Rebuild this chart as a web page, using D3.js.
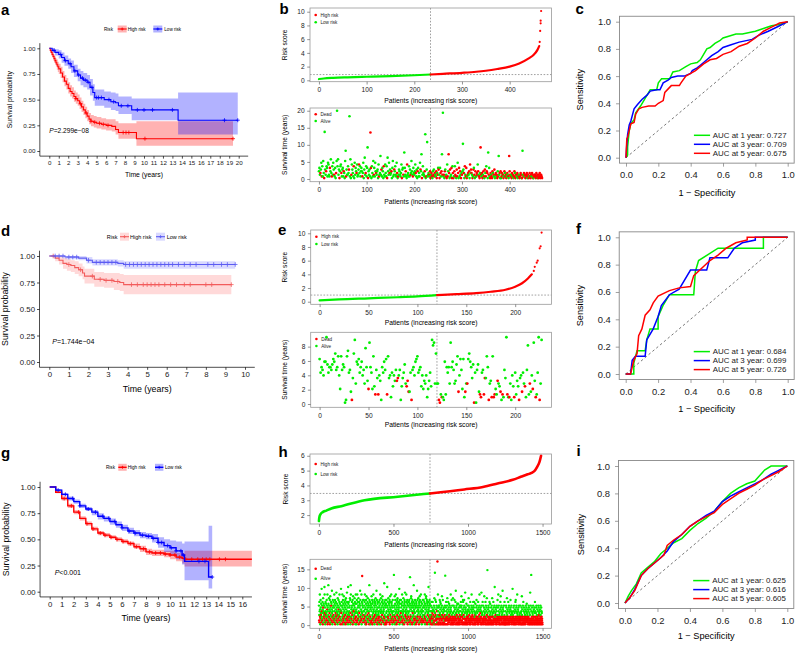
<!DOCTYPE html>
<html><head><meta charset="utf-8">
<script src="https://cdn.jsdelivr.net/npm/d3@7"></script>
<style>body{margin:0;background:#fff}svg{display:block}</style>
</head><body><svg id="chart" width="795" height="654"></svg>
<script>
// ================= DATA =================
// ---- Panel a (KM) ----
const aHighT=[0,0.1,0.2,0.3,0.4,0.5,0.6,0.7,0.8,0.9,1.0,1.2,1.4,1.6,1.8,2.0,2.2,2.4,2.6,2.8,3.0,3.2,3.4,3.6,3.8,4.0,4.2,4.4,4.7,5.0,5.5,6.0,6.6,7.0,7.3,9.2];
const aHighS=[1,0.98,0.96,0.94,0.92,0.90,0.88,0.86,0.84,0.82,0.80,0.76,0.72,0.68,0.65,0.61,0.58,0.56,0.53,0.51,0.49,0.46,0.43,0.40,0.37,0.34,0.31,0.29,0.28,0.27,0.26,0.25,0.24,0.21,0.18,0.12];
const aHighHi=[1,1,0.99,0.97,0.96,0.94,0.92,0.90,0.89,0.87,0.85,0.82,0.78,0.74,0.71,0.67,0.64,0.62,0.59,0.57,0.55,0.52,0.49,0.46,0.43,0.40,0.37,0.35,0.34,0.33,0.32,0.31,0.31,0.29,0.27,0.29];
const aHighLo=[1,0.96,0.93,0.91,0.88,0.86,0.84,0.82,0.79,0.77,0.75,0.71,0.67,0.63,0.60,0.56,0.53,0.51,0.48,0.46,0.44,0.41,0.38,0.35,0.32,0.29,0.26,0.24,0.23,0.22,0.21,0.20,0.19,0.16,0.12,0.05];
const aHighCens=[2.8,3.3,3.9,4.4,4.8,5.3,5.7,6.2,7.8,8.1,8.4,10.1,19.4];
const aLowT=[0,0.3,0.6,1.0,1.3,1.6,2.0,2.3,2.6,3.0,3.3,3.6,4.0,4.3,4.6,4.8,5.8,6.5,7.0,7.3,8.7,13.6];
const aLowS=[1,0.98,0.96,0.94,0.91,0.88,0.85,0.82,0.78,0.74,0.71,0.69,0.67,0.62,0.57,0.52,0.50,0.48,0.47,0.44,0.40,0.30];
const aLowHi=[1,1,0.99,0.98,0.96,0.93,0.90,0.88,0.84,0.80,0.78,0.76,0.74,0.70,0.65,0.60,0.58,0.57,0.56,0.53,0.51,0.57];
const aLowLo=[1,0.96,0.93,0.90,0.86,0.83,0.80,0.76,0.72,0.68,0.64,0.62,0.60,0.54,0.49,0.44,0.42,0.40,0.39,0.36,0.30,0.16];
const aLowCens=[0.5,1.2,1.7,2.2,2.7,3.1,3.5,3.8,4.1,4.5,5.0,5.2,5.5,6.3,6.8,7.6,8.3,9.3,10.0,10.9,13.0,18.5,19.9];

// ---- Panel d (KM) ----
const dHighT=[0,0.3,0.5,0.7,0.9,1.1,1.3,1.5,1.7,1.8,2.3,2.8,3.3,3.6,3.8];
const dHighS=[1,0.98,0.96,0.93,0.92,0.91,0.89,0.87,0.84,0.81,0.78,0.77,0.76,0.75,0.73];
const dHighHi=[1,1,1,0.98,0.97,0.96,0.95,0.93,0.90,0.88,0.85,0.84,0.84,0.83,0.82];
const dHighLo=[1,0.95,0.92,0.88,0.86,0.85,0.83,0.81,0.78,0.74,0.71,0.70,0.68,0.67,0.64];
const dHighCens=[0.2,1.0,1.6,2.2,2.6,2.9,3.2,3.5,4.2,4.5,4.8,5.0,5.2,5.4,5.6,5.9,6.2,6.5,6.9,7.2,8.0,8.3,9.3];
const dLowT=[0,0.8,1.5,1.9,2.2,3.5,3.8];
const dLowS=[1,0.99,0.98,0.96,0.94,0.93,0.92];
const dLowHi=[1,1,1,0.99,0.97,0.96,0.95];
const dLowLo=[1,0.97,0.96,0.93,0.91,0.90,0.88];
const dLowCens=[0.3,0.5,0.7,1.0,1.2,1.4,2.0,2.4,2.6,2.8,3.0,3.2,3.4,3.9,4.1,4.3,4.5,4.7,4.9,5.1,5.3,5.5,5.7,5.9,6.1,6.3,6.6,6.9,7.2,7.5,8.1,8.4,8.8,9.1,9.5];

// ---- Panel g (KM) ----
const gHighT=[0,0.5,1,1.5,2,2.5,3,3.5,4,4.5,5,5.5,6,6.5,7,7.5,8,8.5,9,9.5,10,10.5,11,11.2];
const gHighS=[1,0.95,0.89,0.82,0.76,0.70,0.65,0.60,0.56,0.54,0.52,0.50,0.48,0.46,0.43,0.41,0.38,0.37,0.37,0.36,0.35,0.33,0.32,0.31];
const gHighHi=[1,0.96,0.91,0.84,0.78,0.72,0.67,0.62,0.58,0.56,0.54,0.52,0.50,0.48,0.46,0.44,0.41,0.40,0.40,0.39,0.39,0.37,0.37,0.39];
const gHighLo=[1,0.94,0.87,0.80,0.74,0.68,0.63,0.58,0.54,0.52,0.50,0.48,0.46,0.44,0.41,0.38,0.35,0.34,0.34,0.33,0.31,0.29,0.27,0.24];
const gHighCens=[1.2,1.8,2.4,3.1,3.6,4.2,4.6,5.1,5.6,6.1,6.7,7.2,7.8,8.3,8.8,9.2,9.6,10.0,10.4,10.8,11.3,11.8,12.3,12.7,13.0,13.3,14.1,14.6];
const gLowT=[0,0.5,1,1.5,2,2.5,3,3.5,4,4.5,5,5.5,6,6.5,7,7.5,8,8.5,9,9.5,10,10.5,11,11.2,13.2];
const gLowS=[1,0.97,0.93,0.89,0.86,0.82,0.79,0.76,0.72,0.70,0.67,0.64,0.61,0.58,0.56,0.54,0.53,0.51,0.47,0.44,0.42,0.39,0.35,0.29,0.14];
const gLowHi=[1,0.98,0.94,0.91,0.88,0.84,0.81,0.78,0.75,0.72,0.70,0.67,0.64,0.61,0.59,0.57,0.56,0.55,0.52,0.50,0.49,0.48,0.46,0.48,0.63];
const gLowLo=[1,0.96,0.92,0.87,0.84,0.80,0.77,0.73,0.69,0.67,0.64,0.61,0.58,0.55,0.53,0.51,0.50,0.47,0.42,0.38,0.36,0.31,0.26,0.11,0.03];
const gLowCens=[0.7,1.3,1.9,2.5,3.2,3.8,4.4,4.9,5.4,6.0,6.6,7.1,7.7,8.2,8.6,9.0,9.3,9.8,10.1,10.5,10.9,11.1,12.4,12.9,13.5];

// ---- Panel b (risk score + survival status) ----
const bRiskIdx=[0,10,30,60,100,150,200,234,260,300,330,350,374,400,420,440,450,458,462];
const bRiskVal=[0.19,0.27,0.36,0.44,0.52,0.62,0.74,0.85,0.95,1.1,1.25,1.4,1.65,2.0,2.45,3.2,3.7,4.4,5.0];
const bTopIdx=[463,464,465,465,466];
const bTopVal=[5.6,7.2,8.3,8.7,10.1];
const bCutIdx=234, bCutVal=0.84;
// one letter per patient: lowercase = alive, uppercase = dead; letter k -> (k+0.5)*0.5 years
const bSurvCodes="egcDfjBhbk dAmfcEhgbj icbGeldBhc jfCbgaDkeh lcfAehiDbf gbEdakqBfc chdFeblaCi fdbHajcgeD ibcfIdhbeg eBdjafmcDh bgsAecfbiG ahdbkCgbje DcefaiBcdn cFbgeaHcbi dbhAmecjDf cdEagkbcFe hcbjDaBcfe cbdiAfgCbp gcEbaIcdbh bfCdkecBgd ceiDbfaEgb dbjFeoAchd cbEdaBfkbc dCbE"+
 "AcDBaeCfBD cbEAdCgFcA gDbEoCHbCa EfBcAiBeOD aFbcGAhDAb EhCBaFBjDa GbEcAdCeBf DaHcBGAbCD cEaIdFDcAb FgCaEBbDCi EcBAdSCbDA cEBaFdBhED apCgbADcBA EdCbFaCDbC AeBncDaEaB DcCAbEdBCA bDcBaNECBc ADbCaBEdAC BbDaCBcABD CaAqcBDbCA CBDaBCAbDB ACbDCAaBCC BADBCaACBD ABCBA";
const bOutIdx=[12,38,64,108,223,227,260,302];
const bOutTime=[13.8,20.0,18.4,13.6,13.1,10.8,19.4,10.3];
const bOutDead=[0,0,0,1,0,0,0,0];

// ---- Panel e ----
const eRiskIdx=[0,20,50,80,100,120,140,160,175,190,200,207,213,217];
const eRiskVal=[0.2,0.35,0.5,0.65,0.78,0.97,1.1,1.25,1.45,1.75,2.2,2.7,3.4,4.0];
const eTopIdx=[219,220,222,223,225,226,227];
const eTopVal=[4.5,5.1,5.7,6.0,7.8,8.1,10.1];
const eCutIdx=120, eCutVal=0.97;
// letter k -> (k+0.5)*0.38 years
const eSurvCodes="qlnmkppyol nnmoqpsmnr kfrmonabrt lmeBjsxhpo qlnpkmhuni FwnlfrgDmj DkibnlpmqD rjkclgkimI JkmbgjlohG IEelBmnkpq rlmngkfihk cfilgxvwhs "+
 "hhBAdCcbpd nlnhwnpmhi orEkqmfqcE hHqspnjoAl amoeDClmDJ jrnBhiCrCD fdIhgEbDcm jyDcChbkgC ldigBjkElh GcmvdHekFw iCdlyBhx";

// ---- Panel h ----
const hRiskIdx=[0,3,10,25,50,83,150,306,529,745,975,1100,1198,1300,1354,1400,1443,1464,1480,1490];
const hRiskVal=[1.6,1.85,2.05,2.2,2.3,2.45,2.6,3.0,3.24,3.46,3.73,3.9,4.13,4.38,4.58,4.75,4.95,5.26,5.6,6.0];
const hTopIdx=[];
const hTopVal=[];
const hCutIdx=745, hCutVal=3.46;
// letter k -> (k+0.5)*0.5 years
const hSurvCodes=
 "kCfmBhqEiaDnjgFlcBteHkdCmiAgoJbhlEfkDuqcGjaBmhFelC"+
 "gDnbkIeqAjhCfvlBdoEkiGcnAhpjDfbmKelCisgBahEnjdFkmC"+
 "eBjqhDlcnAfkGimEbrdChjlFgaoBkeDnIhfjCmqbElgAidkHtC"+
 "hGcmkAeqjBfnDliCgpaEkhmBdjFnlcAoigDekBrmhCfjEaulDg"+
 "mBfhjCkdoEnaGvqBeicDjmkFhgnAbplCeiHdkfBojmDglaEqhC"+
 "iEalnBgqdCjmfDkohAemcGjlbBsknEdfiChqaDmgJlkeBjnFhc"+
 "cnDhkBmfqEiajCglnAdpeBkihFmcoDjlbGehkAvnfCdmjEialB"+
 "kBhpdCjnfAlmeDgqiBhckEnajFmldCoghBkesDinfAjmlCbhEg"+
 "fDmjaBknhEcqlCigoAejDhmbFkpnCdlgBjhiEawmDfkcAnljBe"+
 "lAgnhCekuBjdmEfoiDhclBkgnAmpjFeiCdhqBlmkDgjaEnfhBc"+
 "dChmkBjfpEalnDigqCbkhAmjeFnolBdgiCkhmEjtaDflnBcheG"+
 "nBjdlEhkqCmfaBigoDkehAjlnCmrbFdkhEgiqBjmcDnlfAhekC"+
 "gEkmcBnhjDlqaCfiEkopBdjmhAlncGejkBfmvDhialCkgnEbjD"+
 "jAemlCkhsBdnfEjioChgkAmlbDpnjEfchBqkmCgiaDlehBnjfC"+
 "hCnkdBjmfEqlaDgikCopeBjhnAmlcFdkgBiumEhjaCnlfDkeBh"+
 "CkAfDmhEjcAGbmDhiFAeBkhCojaEBgCnAFdmiDCkeAHbjCDfqA"+
 "DhBkjAeFkCngDAmiBlEfAjDhCpkeFADnBgiAiEjBDhcAFkCreD"+
 "AjCmhDEfAkCogiDAEmBCjhDlFeBkCDgAiEqjChDAnfBCkEAgDo"+
 "BgDAkCEhjnBfCDiAmEsgCDjkAFhBleDAiBlECgADjhBCkFAeDk"+
 "ChmEjBpkfCAgBEiDnmAhBFjDnkAeBgDriCAjhBDlCAfEgBDkAh"+
 "EiBCokDhFjBAgCDmeABiCEkDqhBjCFgADiEmkCAjDmhBCeAFgl"+
 "AfCDBjEnhkCBgDAiCEmBAjDhCFkqBeDCiGBjAEhDrkBAfgCDmB"+
 "BkDAChEjBpfCDgiAEmBCkDAhjCoFeADgCBiEAkDjCBhAmEfDlB"+
 "DgABCjEhAkCBofiAEgBCmDAjhCBkEueDCgBFiAjCDhBkAEfCnD"+
 "CjBqDhEkAfCBgDAiEmCpjADhkCEfBAgDsiBjEAhDCkBAfmECDA"+
 "AhDCBkEjAgCoDfAiEhCBmDAjCkBEgADhCiBnjEfDCkBAhgCDEt"+
 "BfCAEjDhBkACgDBiAEmCnhDAjkCBEgqDfCiBAhEjDCkBAgfCED"+
 "DkBACgEhAjCpfDAiBEkCAmDBhjCAEgBDfCiABkEhDCjBlgCEfD"+
 "CiABDhEkBjACgDBfAriCBkDAmhCBEjADgCfBAkEhDCiBAjgCEm"+
 "AhBCDgEjAkBCfDAiCBEhDAkCjBFgADhCBiEAkfDCBjAhEgCDBA";
const hOutIdx=[290,503,611,778,795,847,1130,1424];
const hOutTime=[13.2,13.5,12.9,14.1,17.1,13.3,14.8,13.5];
const hOutDead=[1,0,0,0,1,0,0,0];

// ---- ROC curves ----
const cGreenX=[0,0.01,0.01,0.02,0.03,0.05,0.06,0.09,0.12,0.15,0.19,0.2,0.22,0.27,0.29,0.33,0.37,0.4,0.44,0.46,0.48,0.5,0.52,0.55,0.58,0.6,0.68,0.72,0.8,0.85,0.9,0.95,1];
const cGreenY=[0,0.02,0.08,0.2,0.25,0.28,0.33,0.38,0.44,0.5,0.5,0.55,0.58,0.58,0.63,0.64,0.67,0.69,0.7,0.72,0.76,0.8,0.81,0.84,0.86,0.88,0.91,0.91,0.93,0.95,0.97,0.98,1];
const cBlueX=[0,0.005,0.01,0.02,0.03,0.05,0.07,0.1,0.13,0.15,0.19,0.21,0.23,0.26,0.28,0.32,0.36,0.4,0.41,0.44,0.46,0.5,0.53,0.57,0.6,0.65,0.7,0.78,0.82,0.88,0.95,1];
const cBlueY=[0,0.1,0.17,0.24,0.27,0.36,0.39,0.43,0.46,0.49,0.5,0.5,0.55,0.57,0.59,0.6,0.6,0.62,0.64,0.66,0.68,0.72,0.75,0.78,0.81,0.83,0.85,0.87,0.9,0.93,0.97,1];
const cRedX=[0,0.005,0.01,0.02,0.03,0.05,0.06,0.08,0.1,0.14,0.18,0.2,0.23,0.24,0.28,0.33,0.34,0.37,0.4,0.43,0.45,0.48,0.52,0.56,0.6,0.65,0.7,0.75,0.8,0.85,0.9,0.95,1];
const cRedY=[0,0.14,0.15,0.2,0.25,0.26,0.32,0.36,0.37,0.38,0.38,0.4,0.42,0.48,0.53,0.53,0.55,0.6,0.62,0.64,0.66,0.69,0.72,0.73,0.76,0.78,0.82,0.84,0.88,0.93,0.96,0.99,1];
const cAUC=["0.727","0.709","0.675"];

const fGreenX=[0,0.05,0.05,0.07,0.12,0.13,0.15,0.2,0.2,0.23,0.27,0.42,0.43,0.45,0.57,0.85,0.85,1];
const fGreenY=[0,0,0.08,0.17,0.17,0.25,0.33,0.33,0.42,0.5,0.58,0.58,0.75,0.83,0.92,0.92,1,1];
const fBlueX=[0,0.03,0.04,0.06,0.12,0.13,0.17,0.2,0.22,0.27,0.33,0.4,0.5,0.52,0.63,0.67,0.72,0.8,0.8,1];
const fBlueY=[0,0,0.1,0.13,0.13,0.25,0.33,0.42,0.5,0.58,0.62,0.76,0.76,0.85,0.85,0.92,0.96,0.98,1,1];
const fRedX=[0,0.03,0.05,0.07,0.08,0.1,0.12,0.15,0.17,0.2,0.27,0.33,0.4,0.42,0.52,0.57,0.62,0.68,0.75,0.75,1];
const fRedY=[0,0,0.1,0.15,0.28,0.33,0.43,0.47,0.52,0.57,0.61,0.63,0.64,0.72,0.83,0.87,0.92,0.96,0.98,1,1];
const fAUC=["0.684","0.699","0.726"];

const iGreenX=[0,0.02,0.04,0.07,0.1,0.14,0.18,0.22,0.26,0.3,0.35,0.4,0.45,0.5,0.55,0.6,0.65,0.7,0.75,0.8,0.83,0.86,0.9,0.95,1];
const iGreenY=[0,0.05,0.09,0.14,0.22,0.26,0.3,0.36,0.4,0.44,0.47,0.53,0.58,0.62,0.67,0.74,0.8,0.84,0.87,0.89,0.93,0.97,1,1,1];
const iBlueX=[0,0.03,0.06,0.1,0.14,0.18,0.22,0.26,0.3,0.35,0.4,0.45,0.5,0.55,0.6,0.65,0.7,0.75,0.8,0.85,0.9,0.95,1];
const iBlueY=[0,0.04,0.1,0.2,0.25,0.29,0.33,0.38,0.45,0.5,0.56,0.6,0.64,0.67,0.74,0.78,0.81,0.84,0.87,0.9,0.94,0.97,1];
const iRedX=[0,0.03,0.06,0.1,0.14,0.18,0.22,0.24,0.26,0.3,0.35,0.4,0.45,0.5,0.55,0.6,0.65,0.7,0.75,0.8,0.85,0.9,0.95,1];
const iRedY=[0,0.04,0.09,0.2,0.25,0.29,0.33,0.35,0.42,0.46,0.5,0.56,0.6,0.63,0.66,0.72,0.76,0.8,0.83,0.86,0.9,0.93,0.96,1];
const iAUC=["0.625","0.616","0.605"];

const rocYears=["1","3","5"];
const kmYTicks=[0,0.25,0.5,0.75,1];

// ================= DRAWING =================
const svg=d3.select('#chart');
const F='"Liberation Sans", Arial, Helvetica, sans-serif';

function txt(x,y,s,size,opt={}){
  const t=svg.append('text').attr('x',x).attr('y',y).attr('font-size',size)
    .attr('font-family',F).attr('fill',opt.fill||'#000').text(s);
  if(opt.anchor) t.attr('text-anchor',opt.anchor);
  if(opt.weight) t.attr('font-weight',opt.weight);
  if(opt.rot) t.attr('transform',`rotate(-90,${x},${y})`);
  return t;
}
function styleAxis(sel,size,color,tcol){
  sel.attr('font-size',size).attr('font-family',F);
  sel.select('.domain').remove();
  sel.selectAll('.tick line').attr('stroke',tcol).attr('stroke-width',0.7);
  sel.selectAll('.tick text').attr('fill',color);
}

// ---------- Kaplan–Meier ----------
function km(o){
  const x=d3.scaleLinear().domain([0,o.xmax]).range([o.x0,o.x1]);
  const y=d3.scaleLinear().domain([0,1]).range([o.y0,o.y1]);
  const xa=o.xmax*0.05;
  const g=svg.append('g');
  const clip='clip'+o.id;
  svg.append('clipPath').attr('id',clip).append('rect')
    .attr('x',x(-xa)).attr('y',y(1.05)).attr('width',x(o.xmax+xa)-x(-xa)).attr('height',y(-0.05)-y(1.05));
  const pg=g.append('g').attr('clip-path',`url(#${clip})`);
  o.series.forEach(s=>{
    const pts=s.t.map((t,i)=>[t,s.lo[i],s.hi[i]]);
    pts.push([s.end,s.lo[s.lo.length-1],s.hi[s.hi.length-1]]);
    pg.append('path').attr('d',d3.area().curve(d3.curveStepAfter).x(d=>x(d[0])).y0(d=>y(d[1])).y1(d=>y(d[2]))(pts))
      .attr('fill',s.band).attr('fill-opacity',o.bandOp);
  });
  o.series.forEach(s=>{
    const pts=s.t.map((t,i)=>[t,s.s[i]]);
    pts.push([s.end,s.s[s.s.length-1]]);
    pg.append('path').attr('d',d3.line().curve(d3.curveStepAfter).x(d=>x(d[0])).y(d=>y(d[1]))(pts))
      .attr('fill','none').attr('stroke',s.color).attr('stroke-width',o.lw);
    const sAt=t=>s.s[Math.max(0,d3.bisectRight(s.t,t)-1)];
    const m=o.cm;
    s.cens.forEach(t=>{
      const cx=x(t),cy=y(sAt(t));
      pg.append('path').attr('d',`M${cx-m},${cy}H${cx+m}M${cx},${cy-m}V${cy+m}`)
        .attr('stroke',s.color).attr('stroke-width',0.8);
    });
  });
  const ax=x(-xa), ay=y(-0.05);
  g.append('line').attr('x1',ax).attr('x2',ax).attr('y1',y(1.05)).attr('y2',ay).attr('stroke','#000').attr('stroke-width',0.7);
  g.append('line').attr('x1',ax).attr('x2',x(o.xmax+xa)).attr('y1',ay).attr('y2',ay).attr('stroke','#000').attr('stroke-width',0.7);
  const yA=g.append('g').attr('transform',`translate(${ax},0)`)
    .call(d3.axisLeft(y).tickValues(kmYTicks).tickFormat(d3.format('.2f')).tickSize(2.5).tickPadding(2));
  styleAxis(yA,o.fs,'#222','#000');
  const xA=g.append('g').attr('transform',`translate(0,${ay})`)
    .call(d3.axisBottom(x).tickValues(d3.range(0,o.xmax+1,1)).tickFormat(d3.format('d')).tickSize(2.5).tickPadding(2));
  styleAxis(xA,o.fs,'#222','#000');
  txt((ax+x(o.xmax+xa))/2,o.xtY,'Time (years)',o.ts,{anchor:'middle'});
  txt(o.ytX,(y(1.05)+ay)/2,'Survival probability',o.ts,{anchor:'middle',rot:true});
  const p=txt(x(0)+o.pdx,o.pY,'',o.ps);
  p.append('tspan').attr('font-style','italic').text('P');
  p.append('tspan').text(o.pText);
  const L=o.leg;
  txt(L.risk,L.cy+L.fs*0.35,'Risk',L.fs);
  o.series.forEach((s,i)=>{
    const sx=L.sw[i];
    svg.append('rect').attr('x',sx).attr('y',L.cy-L.h/2).attr('width',L.w).attr('height',L.h).attr('fill',s.band).attr('fill-opacity',o.bandOp);
    svg.append('line').attr('x1',sx).attr('x2',sx+L.w).attr('y1',L.cy).attr('y2',L.cy).attr('stroke',s.color).attr('stroke-width',o.lw);
    svg.append('path').attr('d',`M${sx+L.w/2-1.5},${L.cy}H${sx+L.w/2+1.5}M${sx+L.w/2},${L.cy-1.5}V${L.cy+1.5}`).attr('stroke',s.color).attr('stroke-width',0.8);
    txt(L.tx[i],L.cy+L.fs*0.35,s.name,L.fs);
  });
}

// ---------- risk score panels ----------
function decode(codes,step,oi,ot,od){
  const arr=codes.replace(/\s/g,'').split('').map((c,i)=>{
    const dead=(c>='A'&&c<='Z');
    const k=c.toLowerCase().charCodeAt(0)-97;
    return {i,t:(k+0.5)*step,dead};
  });
  oi.forEach((idx,j)=>{ if(idx<arr.length){arr[idx].t=ot[j];arr[idx].dead=!!od[j];} });
  return arr;
}
function riskPanel(o){
  const n=o.surv.length;
  const x=d3.scaleLinear().domain([-0.04*n,1.04*n]).range([o.bx0,o.bx1]);
  const yT=d3.scaleLinear().domain(o.topDom).range([o.t1,o.t0]);
  const yB=d3.scaleLinear().domain(o.botDom).range([o.b1,o.b0]);
  const g=svg.append('g');
  const dash='1.6,1.6', dcol='#777';
  g.append('line').attr('x1',x(o.cutIdx)).attr('x2',x(o.cutIdx)).attr('y1',o.t0).attr('y2',o.t1).attr('stroke',dcol).attr('stroke-dasharray',dash).attr('stroke-width',0.7);
  g.append('line').attr('x1',o.bx0).attr('x2',o.bx1).attr('y1',yT(o.cutVal)).attr('y2',yT(o.cutVal)).attr('stroke',dcol).attr('stroke-dasharray',dash).attr('stroke-width',0.7);
  const pts=o.riskIdx.map((d,i)=>[d,o.riskVal[i]]);
  const lowPts=pts.filter(p=>p[0]<=o.cutIdx), highPts=pts.filter(p=>p[0]>=o.cutIdx);
  const ln=d3.line().curve(d3.curveMonotoneX).x(d=>x(d[0])).y(d=>yT(d[1]));
  g.append('path').attr('d',ln(lowPts)).attr('fill','none').attr('stroke','#00ee00').attr('stroke-width',o.rlw).attr('stroke-linecap','round');
  g.append('path').attr('d',ln(highPts)).attr('fill','none').attr('stroke','#ff0000').attr('stroke-width',o.rlw).attr('stroke-linecap','round');
  o.topIdx.forEach((d,i)=>g.append('circle').attr('cx',x(d)).attr('cy',yT(o.topVal[i])).attr('r',o.rlw/2).attr('fill','#ff0000'));
  g.append('rect').attr('x',o.bx0).attr('y',o.t0).attr('width',o.bx1-o.bx0).attr('height',o.t1-o.t0).attr('fill','none').attr('stroke','#999').attr('stroke-width',0.8);
  g.append('line').attr('x1',x(o.cutIdx)).attr('x2',x(o.cutIdx)).attr('y1',o.b0).attr('y2',o.b1).attr('stroke',dcol).attr('stroke-dasharray',dash).attr('stroke-width',0.7);
  o.surv.forEach(d=>g.append('circle').attr('cx',x(d.i)).attr('cy',yB(d.t)).attr('r',o.pr).attr('fill',d.dead?'#ff0000':'#00ee00'));
  g.append('rect').attr('x',o.bx0).attr('y',o.b0).attr('width',o.bx1-o.bx0).attr('height',o.b1-o.b0).attr('fill','none').attr('stroke','#999').attr('stroke-width',0.8);
  const fs=6.6;
  [[o.t1,yT,o.topTicks],[o.b1,yB,o.botTicks]].forEach(([yb,ys,tks])=>{
    const xa=g.append('g').attr('transform',`translate(0,${yb})`).call(d3.axisBottom(x).tickValues(o.xTicks).tickFormat(d3.format('d')).tickSize(2.8).tickPadding(3.2));
    styleAxis(xa,fs,'#222','#666');
    const ya=g.append('g').attr('transform',`translate(${o.bx0},0)`).call(d3.axisLeft(ys).tickValues(tks).tickFormat(d3.format('d')).tickSize(2.8).tickPadding(2.5));
    styleAxis(ya,fs,'#222','#666');
  });
  txt((o.bx0+o.bx1)/2,o.xt1,'Patients (increasing risk score)',6.8,{anchor:'middle'});
  txt((o.bx0+o.bx1)/2,o.xt2,'Patients (increasing risk score)',6.8,{anchor:'middle'});
  txt(o.ylx,(o.t0+o.t1)/2,'Risk score',6.6,{anchor:'middle',rot:true});
  txt(o.ylx,(o.b0+o.b1)/2,'Survival time (years)',6.6,{anchor:'middle',rot:true});
  const lf=4.6;
  [[o.lt[0],'#ff0000','High risk'],[o.lt[1],'#00ee00','Low risk'],[o.lb[0],'#ff0000','Dead'],[o.lb[1],'#00ee00','Alive']].forEach(([ly,c,t])=>{
    g.append('circle').attr('cx',o.bx0+5.7).attr('cy',ly).attr('r',1.3).attr('fill',c);
    txt(o.bx0+10.5,ly+1.6,t,lf,{fill:'#222'});
  });
}

// ---------- ROC ----------
function roc(o){
  const x=d3.scaleLinear().domain([0,1]).range([o.x0,o.x1]);
  const y=d3.scaleLinear().domain([0,1]).range([o.y0,o.y1]);
  const g=svg.append('g');
  const bx0=x(-0.04),bx1=x(1.04),by0=y(1.04),by1=y(-0.04);
  g.append('line').attr('x1',x(0)).attr('y1',y(0)).attr('x2',x(1)).attr('y2',y(1)).attr('stroke','#555').attr('stroke-dasharray','2.5,2.5').attr('stroke-width',0.8);
  const cols=['#00ee00','#0000ff','#ff0000'];
  o.curves.forEach((c,k)=>{
    const pts=c[0].map((v,i)=>[v,c[1][i]]);
    g.append('path').attr('d',d3.line().x(d=>x(d[0])).y(d=>y(d[1]))(pts)).attr('fill','none').attr('stroke',cols[k]).attr('stroke-width',1.5);
  });
  g.append('rect').attr('x',bx0).attr('y',by0).attr('width',bx1-bx0).attr('height',by1-by0).attr('fill','none').attr('stroke','#888').attr('stroke-width',0.9);
  const tk=[0,0.2,0.4,0.6,0.8,1];
  const xa=g.append('g').attr('transform',`translate(0,${by1})`).call(d3.axisBottom(x).tickValues(tk).tickFormat(d3.format('.1f')).tickSize(3.5).tickPadding(5));
  styleAxis(xa,9.4,'#222','#777');
  const ya=g.append('g').attr('transform',`translate(${bx0},0)`).call(d3.axisLeft(y).tickValues(tk).tickFormat(d3.format('.1f')).tickSize(3.5).tickPadding(5));
  styleAxis(ya,9.4,'#222','#777');
  txt(x(0.5),o.xtY,'1 \u2212 Specificity',9.2,{anchor:'middle'});
  txt(o.ytX,y(0.5),'Sensitivity',9.2,{anchor:'middle',rot:true});
  o.auc.forEach((a,k)=>{
    const ly=y(0)-22.4+k*9;
    g.append('line').attr('x1',x(0.42)).attr('x2',x(0.52)).attr('y1',ly).attr('y2',ly).attr('stroke',cols[k]).attr('stroke-width',1.5);
    txt(x(0.537),ly+2.8,`AUC at ${rocYears[k]} year: ${a}`,7.9,{fill:'#222'});
  });
}

// ---------- build panels ----------
km({id:'a',xmax:20,x0:49.3,x1:238.7,y0:151,y1:48.3,lw:1.1,cm:2,bandOp:0.3,fs:6.2,ts:6.8,ps:6.6,
  xtY:176.5,ytX:12,pdx:0,pY:133.3,pText:'=2.299e\u221208',
  series:[
    {name:'High risk',color:'#ff0000',band:'#ff0000',t:aHighT,s:aHighS,hi:aHighHi,lo:aHighLo,end:19.4,cens:aHighCens},
    {name:'Low risk',color:'#0000ff',band:'#0000ff',t:aLowT,s:aLowS,hi:aLowHi,lo:aLowLo,end:19.9,cens:aLowCens}],
  leg:{cy:29,risk:104,sw:[117.7,153.3],tx:[127.7,164.3],w:9,h:7,fs:4.6}});
km({id:'d',xmax:10,x0:49.3,x1:245,y0:362,y1:256,lw:1.1,cm:2.3,bandOp:0.2,fs:7.8,ts:8.8,ps:7,
  xtY:392,ytX:8,pdx:3,pY:343.5,pText:'=1.744e\u221204',
  series:[
    {name:'High risk',color:'#f25c5c',band:'#ff4040',t:dHighT,s:dHighS,hi:dHighHi,lo:dHighLo,end:9.3,cens:dHighCens},
    {name:'Low risk',color:'#5c5cf2',band:'#4040ff',t:dLowT,s:dLowS,hi:dLowHi,lo:dLowLo,end:9.5,cens:dLowCens}],
  leg:{cy:236.7,risk:106.7,sw:[120,156],tx:[130,166.7],w:9,h:8,fs:5.5}});
km({id:'g',xmax:16,x0:49.7,x1:242.3,y0:591.7,y1:487,lw:1.4,cm:2,bandOp:0.3,fs:7.8,ts:8.8,ps:7,
  xtY:620.5,ytX:9,pdx:5,pY:575,pText:'<0.001',
  series:[
    {name:'High risk',color:'#ff0000',band:'#ff0000',t:gHighT,s:gHighS,hi:gHighHi,lo:gHighLo,end:16.8,cens:gHighCens},
    {name:'Low risk',color:'#0000ff',band:'#0000ff',t:gLowT,s:gLowS,hi:gLowHi,lo:gLowLo,end:13.5,cens:gLowCens}],
  leg:{cy:467.3,risk:106,sw:[118.3,155],tx:[127.7,165],w:8.4,h:7,fs:4.6}});

riskPanel({bx0:310,bx1:551.5,t0:8,t1:81.7,b0:108,b1:181.7,topDom:[-0.2,10.54],botDom:[-0.8,20.8],
  riskIdx:bRiskIdx,riskVal:bRiskVal,topIdx:bTopIdx,topVal:bTopVal,cutIdx:bCutIdx,cutVal:bCutVal,
  surv:decode(bSurvCodes,0.5,bOutIdx,bOutTime,bOutDead),pr:1.3,rlw:2.2,
  xTicks:[0,100,200,300,400],topTicks:[0,2,4,6,8,10],botTicks:[0,5,10,15,20],
  xt1:103.2,xt2:204,ylx:287.5,lt:[15,22.3],lb:[114.3,121]});
riskPanel({bx0:310.7,bx1:551.5,t0:230,t1:304.3,b0:332.3,b1:407.3,topDom:[-0.38,10.48],botDom:[-0.46,10.0],
  riskIdx:eRiskIdx,riskVal:eRiskVal,topIdx:eTopIdx,topVal:eTopVal,cutIdx:eCutIdx,cutVal:eCutVal,
  surv:decode(eSurvCodes,0.38,[],[],[]),pr:1.4,rlw:2.2,
  xTicks:[0,50,100,150,200],topTicks:[0,2,4,6,8,10],botTicks:[0,2,4,6,8],
  xt1:324.6,xt2:427.4,ylx:287.5,lt:[236.7,244],lb:[339,346]});
riskPanel({bx0:310,bx1:551.5,t0:454,t1:524,b0:559.3,b1:628.3,topDom:[1.4,6.12],botDom:[-0.85,17.7],
  riskIdx:hRiskIdx,riskVal:hRiskVal,topIdx:hTopIdx,topVal:hTopVal,cutIdx:hCutIdx,cutVal:hCutVal,
  surv:decode(hSurvCodes,0.5,hOutIdx,hOutTime,hOutDead),pr:1.2,rlw:2.6,
  xTicks:[0,500,1000,1500],topTicks:[2,3,4,5,6],botTicks:[0,5,10,15],
  xt1:546.6,xt2:650.6,ylx:287.5,lt:[464,474],lb:[568.7,578.7]});

roc({x0:626,x1:787.7,y0:157.7,y1:21.7,xtY:195.5,ytX:583.5,curves:[[cGreenX,cGreenY],[cBlueX,cBlueY],[cRedX,cRedY]],auc:cAUC});
roc({x0:625.7,x1:787.7,y0:374,y1:237.3,xtY:411.5,ytX:583.5,curves:[[fGreenX,fGreenY],[fBlueX,fBlueY],[fRedX,fRedY]],auc:fAUC});
roc({x0:625,x1:787.3,y0:603,y1:466,xtY:639.3,ytX:583.5,curves:[[iGreenX,iGreenY],[iBlueX,iBlueY],[iRedX,iRedY]],auc:iAUC});

[['a',1,14.5],['b',279.5,14],['c',575.5,14],['d',1,236],['e',278,234.5],['f',576,234],['g',1,458],['h',278.5,456.5],['i',576.5,456]]
  .forEach(([l,x,y])=>txt(x,y,l,15,{weight:'bold'}));
</script></body></html>
